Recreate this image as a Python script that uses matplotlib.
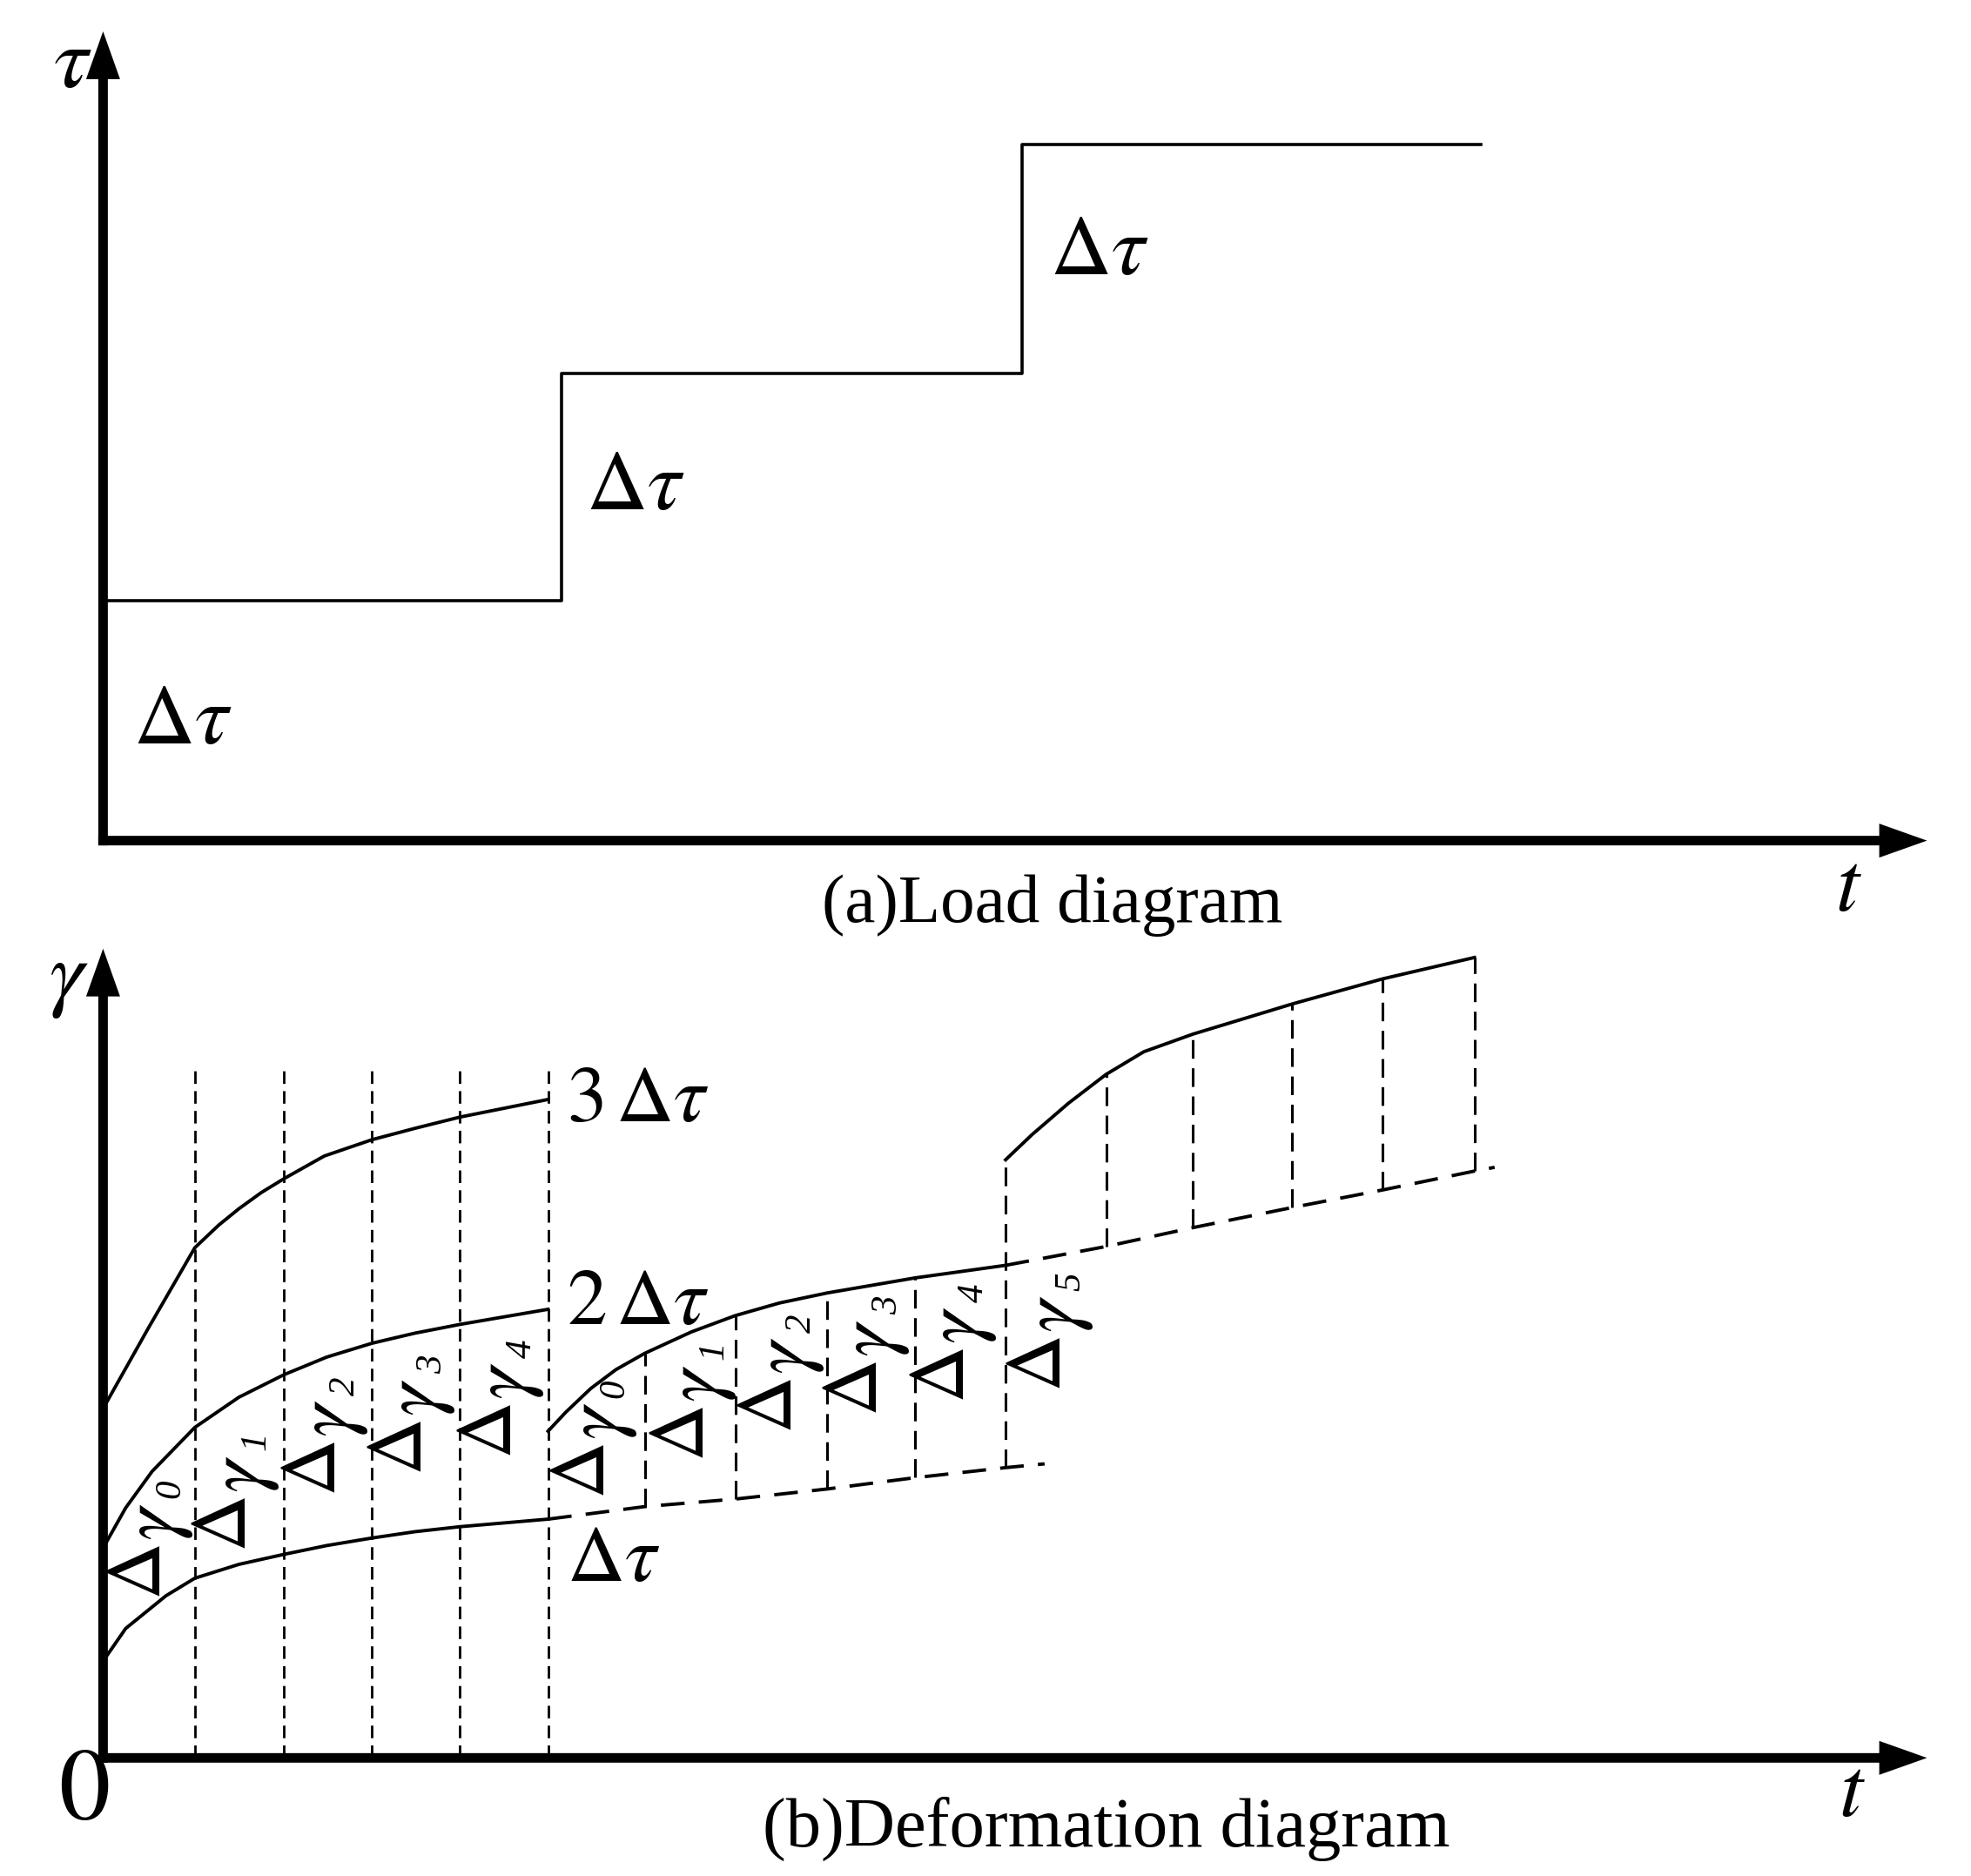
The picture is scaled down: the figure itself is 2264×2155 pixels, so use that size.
import numpy as np
import matplotlib.pyplot as plt

plt.rcParams['mathtext.fontset'] = 'stix'
plt.rcParams['font.family'] = ['Liberation Serif', 'DejaVu Serif']

# (a) load diagram: shear stress raised in equal steps
load_t = [0, 365, 731, 1096]
load_tau = [191, 372, 554, 554]

# (b) creep curves, one per load level
dt1_t = [0, 18, 50, 73, 108, 144, 178, 214, 248, 284, 354]
dt1_g = [77, 103, 129, 143, 154, 162, 169, 175, 180, 184, 190]
ext1_t = [354, 431, 503, 576, 646, 718, 749]
ext1_g = [190, 200, 206, 214, 223, 231, 234]

dt2a_t = [0, 18, 39, 73, 108, 144, 178, 214, 248, 284, 354]
dt2a_g = [167, 199, 228, 263, 287, 305, 319, 330, 338, 345, 357]
dt2b_t = [354, 368, 388, 408, 431, 468, 503, 538, 576, 646, 718]
dt2b_g = [260, 275, 294, 309, 322, 339, 352, 362, 370, 382, 392]
ext2_t = [718, 798, 867, 946, 1018, 1091, 1107]
ext2_g = [392, 407, 422, 438, 452, 467, 470]

dt3a_t = [0, 36, 73, 92, 108, 126, 144, 176, 214, 248, 284, 354]
dt3a_g = [278, 342, 406, 424, 437, 450, 461, 479, 492, 501, 510, 524]
dt3b_t = [718, 739, 768, 798, 828, 867, 946, 1018, 1091]
dt3b_g = [476, 496, 521, 544, 562, 576, 600, 620, 637]

# time marks of the equal intervals
stage1_t = [73, 144, 214, 284, 354]
stage2_t = [431, 503, 576, 646, 718]
stage3_t = [798, 867, 946, 1018, 1091]
stage1_top = 551

# delta-gamma labels (index, anchor of the triangle)
lab1_idx = ['0', '1', '2', '3', '4']
lab1_xy = [(30, 148), (98, 186), (169, 230), (238, 247), (309, 260)]
lab2_idx = ['0', '1', '2', '3', '4', '5']
lab2_xy = [(383, 228), (462, 258), (532, 280), (600, 294), (669, 304), (746, 313)]

W, H = 1568, 1493
fig = plt.figure(figsize=(22.64, 21.55), dpi=100)
ax1 = fig.add_axes([82 / W, (H - 669) / H, 1451 / W, 644 / H])
ax2 = fig.add_axes([82 / W, (H - 1399) / H, 1451 / W, 644 / H])

def draw_axes(ax):
    ax.set_xlim(0, 1451)
    ax.set_ylim(0, 644)
    ax.axis('off')
    kw = dict(width=7.6, head_width=27, head_length=38, length_includes_head=True,
              fc='k', ec='none', clip_on=False)
    ax.arrow(-3.8, 0, 1451 + 3.8, 0, **kw)
    ax.arrow(0, -3.8, 0, 644 + 3.8, **kw)

draw_axes(ax1)
draw_axes(ax2)

# ---- (a)
ax1.plot(load_t, load_tau, drawstyle='steps-post', color='k', lw=2.6, clip_on=False)
for x, y in [(24, 77), (384, 264), (753, 451)]:
    ax1.text(x, y, r'$\Delta\tau$', fontsize=70, ha='left', va='baseline')
ax1.text(-40, 600, r'$\tau$', fontsize=72, ha='left', va='baseline')
ax1.text(1378, -56, r'$t$', fontsize=70, ha='left', va='baseline')
ax1.text(755, -65, '(a)Load diagram', fontsize=57, ha='center', va='baseline')

# ---- (b)
solid = dict(color='k', lw=2.8, clip_on=False, solid_joinstyle='round')
ax2.plot(dt1_t, dt1_g, **solid)
ax2.plot(dt2a_t, dt2a_g, **solid)
ax2.plot(dt2b_t, dt2b_g, **solid)
ax2.plot(dt3a_t, dt3a_g, **solid)
ax2.plot(dt3b_t, dt3b_g, **solid)

ext = dict(color='k', lw=2.8, linestyle=(0, (7.0, 4.2)), clip_on=False)
ax2.plot(ext1_t, ext1_g, **ext)
ax2.plot(ext2_t, ext2_g, **ext)

vstyle1 = dict(colors='k', lw=2.0, linestyles=[(0, (5.2, 3.0))])
vstyle2 = dict(colors='k', lw=2.2, linestyles=[(0, (7.0, 3.6))])
ax2.vlines(stage1_t, 0, stage1_top, **vstyle1)

top2 = np.interp(stage2_t, dt2b_t, dt2b_g)
top2[-1] = dt3b_g[0]
bot2 = np.interp(stage2_t, ext1_t, ext1_g)
ax2.vlines(stage2_t, bot2, top2, **vstyle2)

top3 = np.interp(stage3_t, dt3b_t, dt3b_g)
bot3 = np.interp(stage3_t, ext2_t, ext2_g)
ax2.vlines(stage3_t, bot3, top3, **vstyle2)

for idx, (x, y) in zip(lab1_idx + lab2_idx, lab1_xy + lab2_xy):
    ax2.text(x, y, r'$\Delta$', fontsize=66, rotation=90, ha='center', va='center')
    ax2.text(x + 14, y + 40, r'$\gamma$', fontsize=68, rotation=90, ha='center', va='center')
    ax2.text(x + 24, y + 66, idx, fontsize=31, fontstyle='italic', rotation=90,
             ha='center', va='center')

ax2.text(369, 507, r'$3\,\Delta\tau$', fontsize=66, ha='left', va='baseline')
ax2.text(369, 345, r'$2\,\Delta\tau$', fontsize=66, ha='left', va='baseline')
ax2.text(369, 141, r'$\Delta\tau$', fontsize=66, ha='left', va='baseline')

ax2.text(-43, 602, r'$\gamma$', fontsize=72, ha='left', va='baseline')
ax2.text(-15.6, -48.5, r'$0$', fontsize=85, ha='center', va='baseline')
ax2.text(1381, -46, r'$t$', fontsize=70, ha='left', va='baseline')
ax2.text(798, -70, '(b)Deformation diagram', fontsize=58, ha='center', va='baseline')

fig.savefig('out.png', dpi=100, facecolor='white')
